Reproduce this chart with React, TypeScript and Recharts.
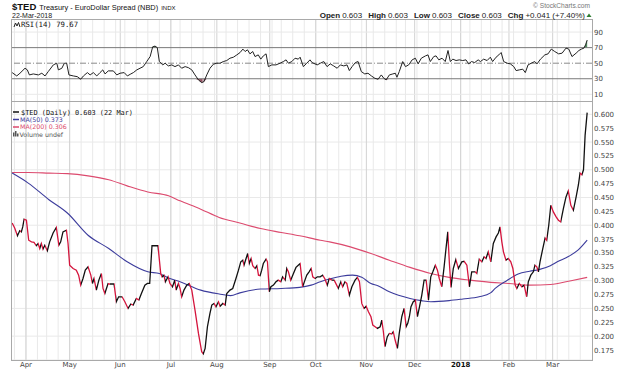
import React from 'react';
import { ComposedChart, Line, Area, XAxis, YAxis, CartesianGrid, ReferenceLine } from 'recharts';

// x values are trading-day numbers: 0 = 21 Mar 2017, 253 = 22 Mar 2018
const monthDays = [9, 28, 50, 72, 92, 115, 135, 157, 178, 198, 219, 238];
const monthLabels = ['Apr', 'May', 'Jun', 'Jul', 'Aug', 'Sep', 'Oct', 'Nov', 'Dec', '2018', 'Feb', 'Mar'];
const weekDays = [4, 9, 14, 18, 23, 28, 33, 38, 43, 48, 52, 57, 62, 67, 72, 76, 81, 86, 91, 96, 101, 106, 111, 116, 120, 125, 130, 135, 140, 145, 150, 155, 160, 165, 170, 174, 179, 184, 189, 194, 198, 202, 207, 211, 216, 221, 226, 231, 235, 240, 245, 250];

const priceTicks = [0.175, 0.2, 0.225, 0.25, 0.275, 0.3, 0.325, 0.35, 0.375, 0.4, 0.425, 0.45, 0.475, 0.5, 0.525, 0.55, 0.575, 0.6];
const rsiTicks = [10, 30, 50, 70, 90];

const priceDays = [
  3.0, 4.1, 5.3, 6.3, 7.0, 7.6, 8.2, 9.2, 10.2, 11.4, 12.5, 13.5, 14.3, 15.0, 15.7, 16.4, 17.2, 18.3, 19.3, 20.8,
  22.2, 23.3, 24.1, 25.1, 26.6, 27.3, 28.0, 29.5, 30.9, 31.9, 32.8, 33.8, 34.8, 36.0, 37.2, 37.9, 38.6, 39.6, 40.7, 41.8,
  42.5, 43.3, 44.0, 44.7, 45.4, 47.3, 48.3, 49.3, 50.8, 52.0, 53.4, 54.6, 55.6, 57.0, 58.1, 59.2, 60.7, 61.8, 62.8, 63.8,
  65.0, 66.4, 67.6, 68.2, 69.0, 69.6, 70.8, 71.6, 72.7, 73.7, 74.3, 75.3, 76.0, 76.7, 77.7, 78.9, 80.0, 81.1, 82.5, 84.0,
  85.4, 86.1, 86.9, 87.9, 89.0, 89.8, 90.8, 91.6, 92.7, 93.4, 94.6, 95.6, 96.3, 97.7, 98.9, 100.3, 101.4, 102.4, 103.3, 103.8,
  104.7, 105.4, 106.1, 106.9, 107.6, 108.6, 109.4, 110.1, 110.8, 111.5, 112.2, 113.4, 114.0, 114.8, 115.5, 116.6, 117.7, 118.7, 119.8, 120.6,
  121.7, 122.4, 123.1, 124.1, 125.3, 126.4, 127.4, 128.2, 129.3, 130.3, 131.1, 132.1, 133.0, 133.7, 134.7, 135.7, 136.9, 138.0, 139.0, 140.0,
  140.9, 142.0, 143.0, 144.1, 144.8, 145.9, 146.7, 147.7, 148.5, 149.6, 150.7, 152.1, 153.1, 154.0, 155.0, 156.0, 156.9, 157.9, 159.0, 159.8,
  160.8, 161.8, 163.0, 163.7, 164.4, 165.1, 166.1, 167.0, 168.0, 168.7, 169.5, 170.5, 171.3, 172.4, 173.4, 174.3, 175.0, 175.7, 176.4, 177.4,
  178.3, 179.2, 180.1, 181.1, 182.1, 183.0, 184.0, 185.0, 185.9, 187.0, 187.9, 188.7, 189.8, 190.8, 191.7, 192.4, 193.1, 193.8, 194.8, 195.9,
  197.0, 198.5, 199.5, 200.7, 201.8, 202.8, 204.3, 205.0, 206.1, 207.2, 208.2, 209.0, 210.0, 211.1, 212.2, 213.4, 214.4, 215.1, 215.9, 216.6,
  217.7, 218.7, 219.8, 220.7, 221.7, 222.4, 223.5, 224.6, 225.6, 226.7, 227.4, 228.5, 229.6, 230.3, 231.1, 231.8, 232.5, 233.7, 234.7, 235.4,
  236.3, 237.2, 238.3, 239.5, 240.5, 241.5, 242.7, 243.8, 244.8, 245.9, 247.0, 248.2, 249.2, 249.9, 250.7, 251.4, 252.1, 253.0,
];
const priceValues = [
  0.404, 0.395, 0.381, 0.390, 0.388, 0.397, 0.411, 0.409, 0.373, 0.370, 0.369, 0.363, 0.367, 0.358, 0.367, 0.357, 0.364, 0.354, 0.370, 0.386,
  0.396, 0.364, 0.370, 0.388, 0.391, 0.367, 0.328, 0.322, 0.319, 0.310, 0.292, 0.304, 0.319, 0.325, 0.310, 0.295, 0.304, 0.283, 0.301, 0.313,
  0.286, 0.277, 0.286, 0.295, 0.294, 0.294, 0.262, 0.271, 0.271, 0.262, 0.250, 0.258, 0.256, 0.268, 0.265, 0.277, 0.292, 0.295, 0.295, 0.363,
  0.363, 0.363, 0.313, 0.307, 0.310, 0.298, 0.307, 0.295, 0.289, 0.301, 0.283, 0.295, 0.286, 0.271, 0.283, 0.292, 0.295, 0.283, 0.247, 0.205,
  0.172, 0.168, 0.178, 0.217, 0.241, 0.256, 0.259, 0.253, 0.262, 0.254, 0.259, 0.256, 0.277, 0.283, 0.286, 0.304, 0.319, 0.334, 0.337, 0.328,
  0.340, 0.349, 0.331, 0.340, 0.327, 0.322, 0.327, 0.310, 0.309, 0.319, 0.331, 0.339, 0.334, 0.280, 0.289, 0.292, 0.298, 0.301, 0.298, 0.307,
  0.301, 0.322, 0.316, 0.301, 0.313, 0.324, 0.328, 0.331, 0.289, 0.301, 0.310, 0.316, 0.322, 0.307, 0.304, 0.307, 0.307, 0.310, 0.303, 0.292,
  0.304, 0.301, 0.301, 0.292, 0.286, 0.298, 0.289, 0.298, 0.295, 0.274, 0.289, 0.301, 0.306, 0.298, 0.259, 0.250, 0.254, 0.244, 0.235, 0.220,
  0.217, 0.214, 0.217, 0.229, 0.208, 0.181, 0.199, 0.205, 0.204, 0.208, 0.193, 0.178, 0.205, 0.235, 0.250, 0.217, 0.223, 0.235, 0.253, 0.262,
  0.265, 0.235, 0.253, 0.274, 0.301, 0.301, 0.265, 0.307, 0.316, 0.328, 0.319, 0.304, 0.289, 0.325, 0.361, 0.388, 0.331, 0.288, 0.322, 0.338,
  0.322, 0.334, 0.335, 0.328, 0.289, 0.316, 0.316, 0.313, 0.339, 0.334, 0.343, 0.340, 0.352, 0.334, 0.367, 0.379, 0.386, 0.397, 0.370, 0.352,
  0.337, 0.340, 0.334, 0.322, 0.292, 0.286, 0.295, 0.289, 0.292, 0.271, 0.298, 0.310, 0.316, 0.328, 0.325, 0.316, 0.334, 0.358, 0.377, 0.373,
  0.400, 0.436, 0.424, 0.415, 0.409, 0.406, 0.431, 0.451, 0.462, 0.436, 0.427, 0.451, 0.473, 0.494, 0.491, 0.500, 0.562, 0.603,
];

const ma50Days = [3, 10, 19, 27, 36, 45, 53, 62, 67, 71, 76, 85, 93, 98, 102, 111, 120, 128, 133, 137, 141, 146, 151, 155, 159, 162, 167, 176, 181, 185, 193, 199, 206, 211, 213, 218, 223, 228, 232, 237, 240, 245, 249, 253];
const ma50Values = [0.494, 0.476, 0.446, 0.422, 0.382, 0.358, 0.334, 0.316, 0.313, 0.305, 0.298, 0.283, 0.276, 0.273, 0.278, 0.285, 0.286, 0.288, 0.292, 0.298, 0.303, 0.308, 0.310, 0.306, 0.295, 0.291, 0.280, 0.268, 0.264, 0.262, 0.264, 0.267, 0.271, 0.278, 0.286, 0.300, 0.312, 0.317, 0.320, 0.327, 0.334, 0.344, 0.355, 0.373];

const ma200Days = [3, 10, 19, 27, 36, 45, 53, 62, 71, 76, 85, 93, 102, 111, 120, 128, 137, 141, 150, 159, 167, 176, 185, 193, 202, 211, 219, 228, 237, 246, 253];
const ma200Values = [0.495, 0.495, 0.494, 0.493, 0.489, 0.482, 0.471, 0.460, 0.453, 0.444, 0.429, 0.414, 0.404, 0.394, 0.387, 0.381, 0.373, 0.370, 0.361, 0.349, 0.337, 0.324, 0.313, 0.306, 0.301, 0.297, 0.295, 0.292, 0.293, 0.300, 0.306];

const rsiDays = [
  3.0, 5.0, 6.4, 8.6, 9.6, 10.5, 12.2, 14.4, 15.9, 17.3, 18.7, 20.9, 22.4, 23.1, 24.6, 25.7, 26.7, 27.7, 29.6, 31.3,
  32.8, 34.0, 35.7, 36.9, 38.3, 39.8, 41.2, 42.4, 43.4, 44.8, 47.0, 48.5, 49.9, 51.7, 53.1, 54.6, 55.7, 57.2, 58.6, 60.0,
  61.5, 63.0, 64.1, 65.1, 66.1, 67.0, 68.5, 69.5, 70.9, 72.4, 73.8, 75.3, 76.7, 78.2, 79.6, 81.1, 82.5, 84.0, 85.4, 86.4,
  87.6, 89.0, 90.5, 92.0, 93.4, 94.8, 96.3, 97.7, 99.2, 100.7, 102.1, 103.3, 104.3, 105.3, 106.4, 107.6, 108.6, 110.0, 111.1, 112.2,
  113.4, 114.4, 115.9, 117.7, 119.5, 120.9, 122.1, 123.1, 124.6, 126.0, 127.4, 128.2, 129.6, 131.1, 132.5, 133.4, 135.6, 137.0, 138.5, 139.9,
  141.3, 142.8, 144.3, 145.7, 147.2, 148.6, 149.6, 150.8, 152.2, 153.4, 154.8, 156.3, 157.7, 159.2, 160.7, 162.1, 163.5, 164.6, 165.6, 167.0,
  168.5, 169.6, 170.3, 171.3, 172.8, 174.0, 175.4, 176.9, 178.3, 179.5, 180.9, 182.7, 183.8, 184.8, 186.3, 187.3, 188.5, 189.9, 191.3, 192.5,
  193.5, 194.6, 196.0, 197.4, 198.9, 200.3, 201.5, 202.7, 204.1, 205.6, 206.6, 208.0, 209.5, 210.9, 211.9, 213.4, 214.6, 215.6, 216.7, 218.2,
  219.6, 221.1, 222.1, 223.5, 225.0, 226.1, 227.3, 228.7, 230.2, 231.2, 232.7, 234.6, 236.0, 237.4, 238.9, 240.6, 242.1, 243.8, 245.0, 246.4,
  248.2, 249.4, 250.5, 251.6, 252.3, 253.0,
];
const rsiValues = [
  37.9, 33.6, 37.1, 43.5, 41.4, 34.9, 36.2, 34.9, 37.1, 33.6, 39.2, 47.8, 50.0, 41.4, 43.5, 50.0, 50.0, 34.9, 33.6, 32.7,
  29.4, 33.6, 37.9, 34.9, 37.9, 33.6, 37.9, 41.4, 36.2, 40.1, 40.1, 34.9, 37.1, 37.9, 33.6, 36.2, 37.9, 41.4, 43.5, 45.6,
  52.1, 58.5, 71.0, 72.0, 70.0, 52.1, 47.8, 50.0, 46.5, 47.8, 45.6, 47.8, 43.5, 45.6, 44.3, 41.4, 34.9, 28.5, 25.0, 26.3,
  34.9, 43.5, 48.7, 50.0, 50.0, 52.1, 53.4, 56.4, 57.7, 60.7, 63.7, 68.1, 65.0, 67.2, 62.0, 65.0, 58.5, 60.7, 55.2, 59.4,
  62.0, 45.6, 47.8, 47.8, 50.0, 52.1, 54.3, 50.0, 52.1, 56.4, 55.2, 57.7, 45.6, 50.0, 54.3, 50.8, 47.8, 50.0, 52.1, 45.6,
  49.1, 46.5, 43.5, 47.8, 46.5, 47.8, 40.5, 45.6, 50.8, 52.1, 39.2, 36.2, 37.1, 33.6, 30.6, 29.4, 34.9, 30.6, 28.5, 34.9,
  36.2, 37.1, 31.9, 39.2, 52.1, 45.6, 47.8, 54.3, 56.4, 49.1, 56.4, 59.4, 60.7, 52.1, 58.5, 59.4, 54.3, 56.4, 52.1, 66.3,
  52.1, 55.2, 53.4, 54.3, 53.4, 54.3, 49.1, 52.1, 50.8, 54.3, 52.1, 55.2, 53.4, 57.7, 52.1, 57.7, 60.7, 63.7, 52.1, 50.0,
  49.1, 45.6, 40.5, 41.4, 42.3, 37.9, 47.8, 50.0, 52.1, 49.1, 55.2, 60.7, 62.0, 68.1, 65.0, 62.0, 62.9, 69.4, 68.1, 58.5,
  62.9, 66.3, 68.1, 69.4, 73.6, 79.67,
];

const X_DOMAIN: [number, number] = [2.5, 255.1];
const PLOT_L = 11;
const PLOT_R = 592;
const RSI_TOP = 19;
const SPLIT = 101;
const PLOT_B = 360;

const UP = '#111111';
const DOWN = '#d4143c';
const MA50_COLOR = '#3c3c9c';
const MA200_COLOR = '#dc4a6e';
const WEEK_GRID = '#e9e9e9';
const MONTH_GRID = '#d2d2d2';
const BORDER = '#a9a9a9';
const SANS = '"DejaVu Sans", Verdana, sans-serif';
const MONO = '"DejaVu Sans Mono", monospace';
const ARIAL = '"Liberation Sans", Arial, sans-serif';

const priceData = priceDays.map((d, i) => ({ day: d, ted: priceValues[i] }));
const ma50Data = ma50Days.map((d, i) => ({ day: d, ma50: ma50Values[i] }));
const ma200Data = ma200Days.map((d, i) => ({ day: d, ma200: ma200Values[i] }));
const rsiData = rsiDays.map((d, i) => ({ day: d, rsi: rsiValues[i] }));

// up/down colouring of the price line, by segment
const PriceGradient = () => {
  const first = priceDays[0];
  const span = priceDays[priceDays.length - 1] - first;
  const stops: React.ReactElement[] = [];
  for (let i = 0; i < priceDays.length - 1; i++) {
    const c = priceValues[i + 1] >= priceValues[i] ? UP : DOWN;
    stops.push(<stop key={`a${i}`} offset={(priceDays[i] - first) / span} stopColor={c} />);
    stops.push(<stop key={`b${i}`} offset={(priceDays[i + 1] - first) / span} stopColor={c} />);
  }
  return (
    <linearGradient id="tedStroke" x1="0" y1="0" x2="1" y2="0">
      {stops}
    </linearGradient>
  );
};

const vGrid = () => [
  ...weekDays.map((d) => (
    <ReferenceLine key={`w${d}`} x={d} stroke={WEEK_GRID} strokeWidth={1} ifOverflow="hidden" />
  )),
  ...monthDays.map((d) => (
    <ReferenceLine key={`m${d}`} x={d} stroke={MONTH_GRID} strokeWidth={1} ifOverflow="hidden" />
  )),
];

const MonthTick = (props: any) => {
  const { x, y, payload } = props;
  const label = monthLabels[monthDays.indexOf(payload.value)];
  return (
    <text x={x} y={y} dy={5} textAnchor="middle" fontSize={7} fontFamily={SANS}
      fontWeight={label === '2018' ? 'bold' : 'normal'} fill={label === '2018' ? '#111' : '#444'}>
      {label}
    </text>
  );
};

const axisTick = { fontSize: 7, fontFamily: SANS, fill: '#444' };

const App: React.FC = () => {
  return (
    <div style={{ position: 'absolute', left: 0, top: 0, width: 624, height: 371, background: '#fff' }}>
      <svg width={0} height={0} style={{ position: 'absolute' }}>
        <defs>
          <PriceGradient />
        </defs>
      </svg>

      {/* RSI panel */}
      <div style={{ position: 'absolute', left: 0, top: 0 }}>
        <ComposedChart width={624} height={SPLIT + 1} data={rsiData}
          margin={{ top: RSI_TOP, right: 0, bottom: 1, left: PLOT_L }}>
          <XAxis type="number" dataKey="day" domain={X_DOMAIN} allowDataOverflow hide />
          <YAxis orientation="right" domain={[1.4, 106.8]} ticks={rsiTicks} width={624 - PLOT_R}
            allowDataOverflow axisLine={false} tickLine={false} tickSize={0} tickMargin={2} tick={axisTick} />
          {vGrid()}
          <ReferenceLine y={10} stroke={WEEK_GRID} />
          <ReferenceLine y={90} stroke={WEEK_GRID} />
          <ReferenceLine y={70} stroke="#7a7a7a" />
          <ReferenceLine y={30} stroke="#7a7a7a" />
          <ReferenceLine y={50} stroke="#8a8a8a" strokeDasharray="6 2 1 2" />
          <Area dataKey={(d: any) => [70, Math.max(70, d.rsi)]} type="linear" stroke="none"
            fill="#3f7f4f" fillOpacity={0.9} isAnimationActive={false} />
          <Area dataKey={(d: any) => [Math.min(30, d.rsi), 30]} type="linear" stroke="none"
            fill="#8c4456" fillOpacity={0.9} isAnimationActive={false} />
          <Line dataKey="rsi" type="linear" stroke="#222" strokeWidth={1} dot={false} isAnimationActive={false} />
        </ComposedChart>
      </div>

      {/* price panel */}
      <div style={{ position: 'absolute', left: 0, top: SPLIT }}>
        <ComposedChart width={624} height={371 - SPLIT}
          margin={{ top: 0, right: 0, bottom: 0, left: PLOT_L }}>
          <XAxis type="number" dataKey="day" domain={X_DOMAIN} allowDataOverflow ticks={monthDays}
            interval={0} height={371 - PLOT_B} axisLine={false} tickLine={false}
            tickSize={0} tickMargin={2} tick={<MonthTick />} />
          <YAxis orientation="right" domain={[0.157, 0.624]} ticks={priceTicks} width={624 - PLOT_R}
            allowDataOverflow axisLine={false} tickLine={false} tickSize={0} tickMargin={2}
            tick={axisTick} tickFormatter={(v: number) => v.toFixed(3)} />
          <CartesianGrid vertical={false} stroke={WEEK_GRID} />
          {vGrid()}
          <Line data={ma200Data} dataKey="ma200" type="monotone" stroke={MA200_COLOR} strokeWidth={1.1}
            dot={false} isAnimationActive={false} />
          <Line data={ma50Data} dataKey="ma50" type="monotone" stroke={MA50_COLOR} strokeWidth={1.1}
            dot={false} isAnimationActive={false} />
          <Line data={priceData} dataKey="ted" type="linear" stroke="url(#tedStroke)" strokeWidth={1.3}
            dot={false} isAnimationActive={false} />
        </ComposedChart>
      </div>

      {/* panel borders, header and legends */}
      <svg width={624} height={371} style={{ position: 'absolute', left: 0, top: 0, pointerEvents: 'none' }}>
        <rect x={PLOT_L + 0.5} y={RSI_TOP + 0.5} width={PLOT_R - PLOT_L} height={SPLIT - RSI_TOP}
          fill="none" stroke={BORDER} />
        <rect x={PLOT_L + 0.5} y={SPLIT + 0.5} width={PLOT_R - PLOT_L} height={PLOT_B - SPLIT}
          fill="none" stroke={BORDER} />

        <text x={12} y={9.5} fontFamily={ARIAL} fill="#111">
          <tspan fontSize={9.5} fontWeight="bold">$TED</tspan>
          <tspan fontSize={7.4} dx={3}>Treasury - EuroDollar Spread (NBD)</tspan>
          <tspan fontSize={6} dx={3}>INDX</tspan>
        </text>
        <text x={12} y={18} fontSize={7} fontFamily={ARIAL} fill="#222">22-Mar-2018</text>

        <text x={590} y={8} textAnchor="end" fontSize={6.6} fontFamily={ARIAL} fill="#777">
          © StockCharts.com
        </text>
        <text x={585} y={17.5} textAnchor="end" fontSize={8} fontFamily={ARIAL} fill="#222">
          <tspan fontWeight="bold">Open</tspan>
          <tspan dx={2}>0.603</tspan>
          <tspan dx={6} fontWeight="bold">High</tspan>
          <tspan dx={2}>0.603</tspan>
          <tspan dx={6} fontWeight="bold">Low</tspan>
          <tspan dx={2}>0.603</tspan>
          <tspan dx={6} fontWeight="bold">Close</tspan>
          <tspan dx={2}>0.603</tspan>
          <tspan dx={6} fontWeight="bold">Chg</tspan>
          <tspan dx={2}>+0.041 (+7.40%)</tspan>
        </text>
        <path d="M586.5 17 L589 13.5 L591.5 17 Z" fill="#2e7d32" />

        <polyline points="14,27 15.5,23 17,26 18.5,22.5 20,27" fill="none" stroke="#222" strokeWidth={1} />
        <text x={21} y={27} fontSize={7.3} fontFamily={MONO} fill="#111">RSI(14) 79.67</text>

        <line x1={13} x2={19} y1={112} y2={112} stroke="#111" strokeWidth={1.5} />
        <text x={21} y={114.5} fontSize={6.9} fontFamily={MONO} fill="#111">$TED (Daily) 0.603 (22 Mar)</text>
        <line x1={13} x2={19} y1={119.5} y2={119.5} stroke={MA50_COLOR} strokeWidth={1.5} />
        <text x={20} y={121.8} fontSize={6.3} fontFamily={SANS} fill={MA50_COLOR}>MA(50) 0.373</text>
        <line x1={13} x2={19} y1={127} y2={127} stroke={MA200_COLOR} strokeWidth={1.5} />
        <text x={20} y={129.3} fontSize={6.3} fontFamily={SANS} fill={MA200_COLOR}>MA(200) 0.306</text>
        <rect x={13} y={132.5} width={1.5} height={4} fill="#555" />
        <rect x={15} y={131} width={1.5} height={5.5} fill="#555" />
        <rect x={17} y={133.5} width={1.5} height={3} fill="#555" />
        <text x={19.5} y={136.8} fontSize={6.3} fontFamily={SANS} fill="#555">Volume undef</text>
      </svg>
    </div>
  );
};

export default App;
